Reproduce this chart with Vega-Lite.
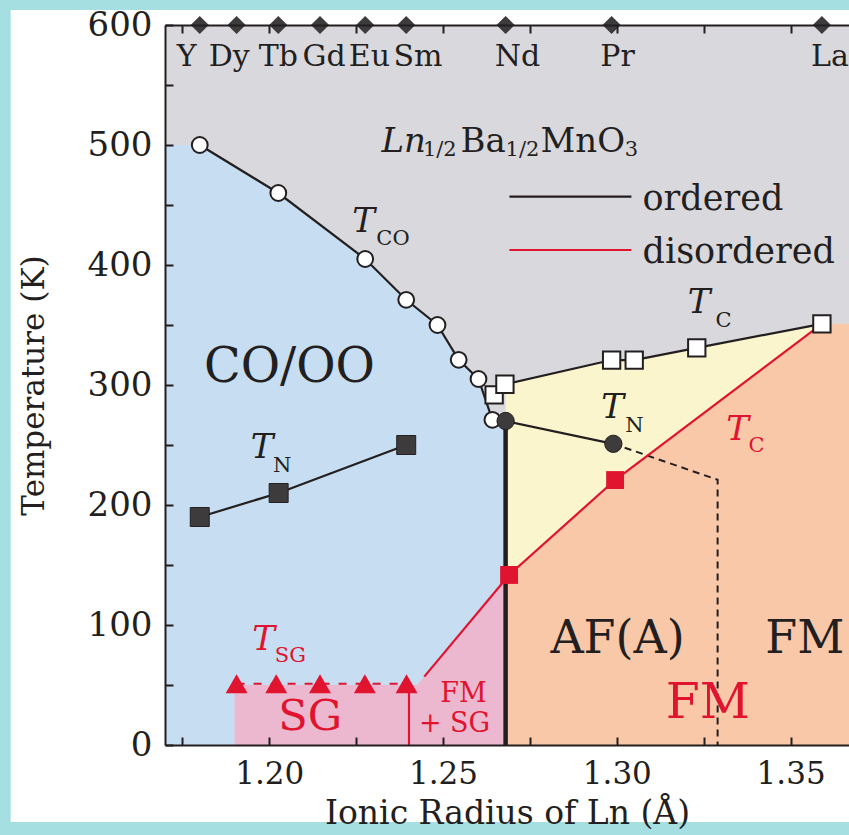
{
"$schema": "https://vega.github.io/schema/vega-lite/v6.json",
"width": 684, "height": 720,
"autosize": {"type": "none"},
"padding": {"left": 165, "top": 25, "right": 0, "bottom": 90},
"background": "#a6dfe1",
"view": {"stroke": null},
"datasets": {
"panel": [{"x": 1.1256, "x2": 1.38, "y": -64.2, "y2": 612.5}],
"bg": [{"x": 1.17, "x2": 1.3668, "y": 0, "y2": 600}],
"blue": [{"x": 1.17, "y": 500}, {"x": 1.18, "y": 500}, {"x": 1.2026, "y": 460}, {"x": 1.2276, "y": 405}, {"x": 1.2394, "y": 371}, {"x": 1.2484, "y": 350}, {"x": 1.2545, "y": 321}, {"x": 1.2602, "y": 305}, {"x": 1.2642, "y": 271}, {"x": 1.268, "y": 270}],
"pink": [{"x": 1.19, "y": 50}, {"x": 1.2426, "y": 50}, {"x": 1.268, "y": 140}],
"peach": [{"x": 1.268, "y": 140}, {"x": 1.2995, "y": 220.8}, {"x": 1.359, "y": 351}, {"x": 1.3668, "y": 351}],
"yellow": [{"x": 1.268, "y": 300, "y2": 140}, {"x": 1.2985, "y": 320.8, "y2": 219.5}, {"x": 1.305, "y": 320.8, "y2": 233}, {"x": 1.323, "y": 331, "y2": 272.5}, {"x": 1.359, "y": 351, "y2": 351}],
"lines": [
{"s": "TCO", "x": 1.18, "y": 500, "o": 1}, {"s": "TCO", "x": 1.2026, "y": 460, "o": 2}, {"s": "TCO", "x": 1.2276, "y": 405, "o": 3}, {"s": "TCO", "x": 1.2394, "y": 371, "o": 4}, {"s": "TCO", "x": 1.2484, "y": 350, "o": 5}, {"s": "TCO", "x": 1.2545, "y": 321, "o": 6}, {"s": "TCO", "x": 1.2602, "y": 305, "o": 7}, {"s": "TCO", "x": 1.2642, "y": 271, "o": 8},
{"s": "TNCO", "x": 1.18, "y": 190, "o": 1}, {"s": "TNCO", "x": 1.2027, "y": 210, "o": 2}, {"s": "TNCO", "x": 1.2394, "y": 250, "o": 3},
{"s": "TCB", "x": 1.2647, "y": 291.7, "o": 1}, {"s": "TCB", "x": 1.2678, "y": 300.6, "o": 2}, {"s": "TCB", "x": 1.2985, "y": 320.8, "o": 3}, {"s": "TCB", "x": 1.305, "y": 320.8, "o": 4}, {"s": "TCB", "x": 1.323, "y": 331, "o": 5}, {"s": "TCB", "x": 1.359, "y": 351, "o": 6},
{"s": "TNAF", "x": 1.268, "y": 270, "o": 1}, {"s": "TNAF", "x": 1.299, "y": 251, "o": 2},
{"s": "LEGB", "x": 1.2691, "y": 457, "o": 1}, {"s": "LEGB", "x": 1.3042, "y": 457, "o": 2},
{"s": "TNAFD", "x": 1.299, "y": 251, "o": 1}, {"s": "TNAFD", "x": 1.329, "y": 221, "o": 2}, {"s": "TNAFD", "x": 1.329, "y": 0, "o": 3},
{"s": "TCR", "x": 1.2446, "y": 57, "o": 1}, {"s": "TCR", "x": 1.269, "y": 141.7, "o": 2}, {"s": "TCR", "x": 1.2995, "y": 220.8, "o": 3}, {"s": "TCR", "x": 1.359, "y": 351, "o": 4},
{"s": "SGV", "x": 1.2402, "y": 0, "o": 1}, {"s": "SGV", "x": 1.2402, "y": 50, "o": 2},
{"s": "LEGR", "x": 1.2691, "y": 412.5, "o": 1}, {"s": "LEGR", "x": 1.3042, "y": 412.5, "o": 2},
{"s": "TSG", "x": 1.1906, "y": 51, "o": 1}, {"s": "TSG", "x": 1.2395, "y": 51, "o": 2},
{"s": "ND", "x": 1.268, "y": 0, "o": 1}, {"s": "ND", "x": 1.268, "y": 270, "o": 2}
],
"pts": [
{"k": "oc", "x": 1.18, "y": 500}, {"k": "oc", "x": 1.2026, "y": 460}, {"k": "oc", "x": 1.2276, "y": 405}, {"k": "oc", "x": 1.2394, "y": 371}, {"k": "oc", "x": 1.2484, "y": 350}, {"k": "oc", "x": 1.2545, "y": 321}, {"k": "oc", "x": 1.2602, "y": 305}, {"k": "oc", "x": 1.2642, "y": 271},
{"k": "os", "x": 1.2647, "y": 291.7}, {"k": "os", "x": 1.2678, "y": 300.6}, {"k": "os", "x": 1.2985, "y": 320.8}, {"k": "os", "x": 1.305, "y": 320.8}, {"k": "os", "x": 1.323, "y": 331}, {"k": "os", "x": 1.359, "y": 351},
{"k": "ds", "x": 1.18, "y": 190}, {"k": "ds", "x": 1.2027, "y": 210}, {"k": "ds", "x": 1.2394, "y": 250},
{"k": "dc", "x": 1.268, "y": 270}, {"k": "dc", "x": 1.299, "y": 251},
{"k": "rs", "x": 1.269, "y": 141.7}, {"k": "rs", "x": 1.2995, "y": 220.8},
{"k": "tri", "x": 1.1906, "y": 51}, {"k": "tri", "x": 1.202, "y": 51}, {"k": "tri", "x": 1.2146, "y": 51}, {"k": "tri", "x": 1.2275, "y": 51}, {"k": "tri", "x": 1.2395, "y": 51},
{"k": "dia", "x": 1.18, "y": 600}, {"k": "dia", "x": 1.1906, "y": 600}, {"k": "dia", "x": 1.2026, "y": 600}, {"k": "dia", "x": 1.2146, "y": 600}, {"k": "dia", "x": 1.2276, "y": 600}, {"k": "dia", "x": 1.2394, "y": 600}, {"k": "dia", "x": 1.268, "y": 600}, {"k": "dia", "x": 1.2985, "y": 600}, {"k": "dia", "x": 1.359, "y": 600}
],
"tx": [
{"g": "elem", "t": "Y", "x": 1.1762, "y": 565.8}, {"g": "elem", "t": "Dy", "x": 1.1885, "y": 565.8}, {"g": "elem", "t": "Tb", "x": 1.2026, "y": 565.8}, {"g": "elem", "t": "Gd", "x": 1.2158, "y": 565.8}, {"g": "elem", "t": "Eu", "x": 1.2288, "y": 565.8}, {"g": "elem", "t": "Sm", "x": 1.2428, "y": 565.8}, {"g": "elem", "t": "Nd", "x": 1.2714, "y": 565.8}, {"g": "elem", "t": "Pr", "x": 1.3002, "y": 565.8}, {"g": "elem", "t": "La", "x": 1.3613, "y": 565.8},
{"g": "fI", "t": "Ln", "x": 1.23226, "y": 494.4},
{"g": "fN", "t": "Ba", "x": 1.2550, "y": 494.4}, {"g": "fN", "t": "MnO", "x": 1.27805, "y": 494.4},
{"g": "fS", "t": "1/2", "x": 1.2442, "y": 490.5}, {"g": "fS", "t": "1/2", "x": 1.2680, "y": 490.5}, {"g": "fS", "t": "3", "x": 1.30225, "y": 490.5},
{"g": "leg", "t": "ordered", "x": 1.3074, "y": 445.8}, {"g": "leg", "t": "disordered", "x": 1.3074, "y": 401.7},
{"g": "TB", "t": "T", "x": 1.2239, "y": 427.75}, {"g": "TB", "t": "T", "x": 1.3204, "y": 360}, {"g": "TB", "t": "T", "x": 1.2955, "y": 272.25}, {"g": "TB", "t": "T", "x": 1.1947, "y": 238.9},
{"g": "TR", "t": "T", "x": 1.3315, "y": 254.2}, {"g": "TR", "t": "T", "x": 1.1951, "y": 79.2},
{"g": "SB", "t": "CO", "x": 1.2308, "y": 416.7}, {"g": "SB", "t": "C", "x": 1.3284, "y": 348.6}, {"g": "SB", "t": "N", "x": 1.3024, "y": 261.1}, {"g": "SB", "t": "N", "x": 1.2011, "y": 227.75},
{"g": "SR", "t": "C", "x": 1.3379, "y": 244.4}, {"g": "SR", "t": "SG", "x": 1.2016, "y": 69.4},
{"g": "co", "t": "CO/OO", "x": 1.2058, "y": 302.75},
{"g": "af", "t": "AF(A)", "x": 1.3002, "y": 76.4}, {"g": "af", "t": "FM", "x": 1.3541, "y": 76.4},
{"g": "sg", "t": "SG", "x": 1.2118, "y": 12.5},
{"g": "fm", "t": "FM", "x": 1.3262, "y": 22.25},
{"g": "sm", "t": "FM", "x": 1.2559, "y": 36.1}, {"g": "sm", "t": "+ SG", "x": 1.2533, "y": 11.1}
]
},
"encoding": {
"x": {"field": "x", "type": "quantitative", "scale": {"domain": [1.17, 1.3668], "nice": false, "zero": false}, "axis": null},
"y": {"field": "y", "type": "quantitative", "scale": {"domain": [0, 600], "nice": false, "zero": false}, "axis": null}
},
"resolve": {"axis": {"x": "independent", "y": "independent"}},
"layer": [
{"data": {"name": "panel"}, "mark": {"type": "rect", "fill": "#ffffff", "clip": false},
 "encoding": {"x2": {"field": "x2"}, "y2": {"field": "y2"}}},
{"data": {"name": "bg"}, "mark": {"type": "rect", "fill": "#d9d8dc"},
 "encoding": {
  "x": {"field": "x", "type": "quantitative", "scale": {"domain": [1.17, 1.3668], "nice": false, "zero": false},
   "axis": {"orient": "bottom", "values": [1.175, 1.2, 1.225, 1.25, 1.275, 1.3, 1.325, 1.35], "labelExpr": "abs(datum.value*20-round(datum.value*20))<0.01 ? format(datum.value,'.2f') : ''", "tickSize": -8, "tickWidth": 2, "tickColor": "#231f20", "domainWidth": 2, "domainColor": "#231f20", "labelFont": "DejaVu Serif", "labelFontSize": 31, "labelColor": "#231f20", "labelPadding": 22, "labelFlush": false, "labelOverlap": false, "grid": false, "title": "Ionic Radius of Ln (Å)", "titleFont": "DejaVu Serif", "titleFontSize": 33, "titleFontWeight": "normal", "titleColor": "#231f20", "titlePadding": 8, "zindex": 2}},
  "x2": {"field": "x2"},
  "y": {"field": "y", "type": "quantitative", "scale": {"domain": [0, 600], "nice": false, "zero": false},
   "axis": {"orient": "left", "values": [0, 50, 100, 150, 200, 250, 300, 350, 400, 450, 500, 550, 600], "labelExpr": "datum.value % 100 == 0 ? datum.label : ''", "tickSize": -8, "tickWidth": 2, "tickColor": "#231f20", "domainWidth": 2, "domainColor": "#231f20", "labelFont": "DejaVu Serif", "labelFontSize": 34, "labelColor": "#231f20", "labelPadding": 21, "labelFlush": false, "labelOverlap": false, "grid": false, "title": "Temperature (K)", "titleFont": "DejaVu Serif", "titleFontSize": 31, "titleFontWeight": "normal", "titleColor": "#231f20", "titlePadding": 37, "zindex": 2}},
  "y2": {"field": "y2"}}},
{"data": {"name": "blue"}, "mark": {"type": "area", "fill": "#c6ddf2"}, "encoding": {"y2": {"datum": 0}}},
{"data": {"name": "pink"}, "mark": {"type": "area", "fill": "#ecb8cf"}, "encoding": {"y2": {"datum": 0}}},
{"data": {"name": "peach"}, "mark": {"type": "area", "fill": "#f8c8a8"}, "encoding": {"y2": {"datum": 0}}},
{"data": {"name": "yellow"}, "mark": {"type": "area", "fill": "#faf5cd"}, "encoding": {"y2": {"field": "y2"}}},
{"data": {"name": "lines"}, "transform": [{"filter": "indexof(['TCO','TNCO','TCB','TNAF','LEGB'], datum.s) >= 0"}],
 "mark": {"type": "line", "color": "#231f20", "strokeWidth": 2.2},
 "encoding": {"detail": {"field": "s"}, "order": {"field": "o"}}},
{"data": {"name": "lines"}, "transform": [{"filter": "datum.s == 'TNAFD'"}],
 "mark": {"type": "line", "color": "#231f20", "strokeWidth": 2, "strokeDash": [7, 5]},
 "encoding": {"detail": {"field": "s"}, "order": {"field": "o"}}},
{"data": {"name": "lines"}, "transform": [{"filter": "indexof(['TCR','SGV','LEGR'], datum.s) >= 0"}],
 "mark": {"type": "line", "color": "#e0142f", "strokeWidth": 2.2},
 "encoding": {"detail": {"field": "s"}, "order": {"field": "o"}}},
{"data": {"name": "lines"}, "transform": [{"filter": "datum.s == 'TSG'"}],
 "mark": {"type": "line", "color": "#e0142f", "strokeWidth": 2, "strokeDash": [8, 9]},
 "encoding": {"detail": {"field": "s"}, "order": {"field": "o"}}},
{"data": {"name": "lines"}, "transform": [{"filter": "datum.s == 'ND'"}],
 "mark": {"type": "line", "color": "#231f20", "strokeWidth": 4.5},
 "encoding": {
  "x": {"field": "x", "type": "quantitative", "scale": {"domain": [1.17, 1.3668], "nice": false, "zero": false},
   "axis": {"orient": "top", "values": [1.175, 1.2, 1.225, 1.25, 1.275, 1.3, 1.325, 1.35], "labels": false, "title": null, "tickSize": -8, "tickWidth": 2, "tickColor": "#231f20", "domainWidth": 2, "domainColor": "#231f20", "grid": false, "zindex": 2}},
  "order": {"field": "o"}}},
{"data": {"name": "pts"}, "transform": [{"filter": "datum.k == 'oc'"}], "mark": {"type": "point", "shape": "circle", "filled": true, "fill": "#ffffff", "stroke": "#231f20", "strokeWidth": 2, "size": 250, "opacity": 1}},
{"data": {"name": "pts"}, "transform": [{"filter": "datum.k == 'os'"}], "mark": {"type": "point", "shape": "square", "filled": true, "fill": "#ffffff", "stroke": "#231f20", "strokeWidth": 2, "size": 300, "opacity": 1}},
{"data": {"name": "pts"}, "transform": [{"filter": "datum.k == 'ds'"}], "mark": {"type": "point", "shape": "square", "filled": true, "fill": "#3d3b3c", "stroke": "#231f20", "strokeWidth": 1, "size": 360, "opacity": 1}},
{"data": {"name": "pts"}, "transform": [{"filter": "datum.k == 'dc'"}], "mark": {"type": "point", "shape": "circle", "filled": true, "fill": "#3d3b3c", "stroke": "#231f20", "strokeWidth": 1, "size": 300, "opacity": 1}},
{"data": {"name": "pts"}, "transform": [{"filter": "datum.k == 'rs'"}], "mark": {"type": "point", "shape": "square", "filled": true, "fill": "#e0142f", "size": 320, "opacity": 1}},
{"data": {"name": "pts"}, "transform": [{"filter": "datum.k == 'tri'"}], "mark": {"type": "point", "shape": "triangle-up", "filled": true, "fill": "#e0142f", "size": 480, "opacity": 1}},
{"data": {"name": "pts"}, "transform": [{"filter": "datum.k == 'dia'"}], "mark": {"type": "point", "shape": "diamond", "filled": true, "fill": "#3d3b3c", "size": 330, "opacity": 1}},
{"data": {"name": "tx"}, "transform": [{"filter": "datum.g == 'elem'"}], "mark": {"type": "text", "font": "DejaVu Serif", "fontSize": 30, "align": "center", "baseline": "alphabetic", "color": "#231f20"}, "encoding": {"text": {"field": "t"}}},
{"data": {"name": "tx"}, "transform": [{"filter": "datum.g == 'fI'"}], "mark": {"type": "text", "font": "DejaVu Serif", "fontStyle": "italic", "fontSize": 34, "align": "left", "baseline": "alphabetic", "color": "#231f20"}, "encoding": {"text": {"field": "t"}}},
{"data": {"name": "tx"}, "transform": [{"filter": "datum.g == 'fN'"}], "mark": {"type": "text", "font": "DejaVu Serif", "fontSize": 34, "align": "left", "baseline": "alphabetic", "color": "#231f20"}, "encoding": {"text": {"field": "t"}}},
{"data": {"name": "tx"}, "transform": [{"filter": "datum.g == 'fS'"}], "mark": {"type": "text", "font": "DejaVu Serif", "fontSize": 21, "align": "left", "baseline": "alphabetic", "color": "#231f20"}, "encoding": {"text": {"field": "t"}}},
{"data": {"name": "tx"}, "transform": [{"filter": "datum.g == 'leg'"}], "mark": {"type": "text", "font": "DejaVu Serif", "fontSize": 35, "align": "left", "baseline": "alphabetic", "color": "#231f20"}, "encoding": {"text": {"field": "t"}}},
{"data": {"name": "tx"}, "transform": [{"filter": "datum.g == 'TB'"}], "mark": {"type": "text", "font": "DejaVu Serif", "fontStyle": "italic", "fontSize": 34, "align": "left", "baseline": "alphabetic", "color": "#231f20"}, "encoding": {"text": {"field": "t"}}},
{"data": {"name": "tx"}, "transform": [{"filter": "datum.g == 'TR'"}], "mark": {"type": "text", "font": "DejaVu Serif", "fontStyle": "italic", "fontSize": 34, "align": "left", "baseline": "alphabetic", "color": "#e0142f"}, "encoding": {"text": {"field": "t"}}},
{"data": {"name": "tx"}, "transform": [{"filter": "datum.g == 'SB'"}], "mark": {"type": "text", "font": "DejaVu Serif", "fontSize": 21, "align": "left", "baseline": "alphabetic", "color": "#231f20"}, "encoding": {"text": {"field": "t"}}},
{"data": {"name": "tx"}, "transform": [{"filter": "datum.g == 'SR'"}], "mark": {"type": "text", "font": "DejaVu Serif", "fontSize": 21, "align": "left", "baseline": "alphabetic", "color": "#e0142f"}, "encoding": {"text": {"field": "t"}}},
{"data": {"name": "tx"}, "transform": [{"filter": "datum.g == 'co'"}], "mark": {"type": "text", "font": "DejaVu Serif", "fontSize": 48, "align": "center", "baseline": "alphabetic", "color": "#231f20"}, "encoding": {"text": {"field": "t"}}},
{"data": {"name": "tx"}, "transform": [{"filter": "datum.g == 'af'"}], "mark": {"type": "text", "font": "DejaVu Serif", "fontSize": 46, "align": "center", "baseline": "alphabetic", "color": "#231f20"}, "encoding": {"text": {"field": "t"}}},
{"data": {"name": "tx"}, "transform": [{"filter": "datum.g == 'sg'"}], "mark": {"type": "text", "font": "DejaVu Serif", "fontSize": 43, "align": "center", "baseline": "alphabetic", "color": "#e0142f"}, "encoding": {"text": {"field": "t"}}},
{"data": {"name": "tx"}, "transform": [{"filter": "datum.g == 'fm'"}], "mark": {"type": "text", "font": "DejaVu Serif", "fontSize": 49, "align": "center", "baseline": "alphabetic", "color": "#e0142f"}, "encoding": {"text": {"field": "t"}}},
{"data": {"name": "tx"}, "transform": [{"filter": "datum.g == 'sm'"}], "mark": {"type": "text", "font": "DejaVu Serif", "fontSize": 27, "align": "center", "baseline": "alphabetic", "color": "#e0142f"}, "encoding": {"text": {"field": "t"}}}
]
}
